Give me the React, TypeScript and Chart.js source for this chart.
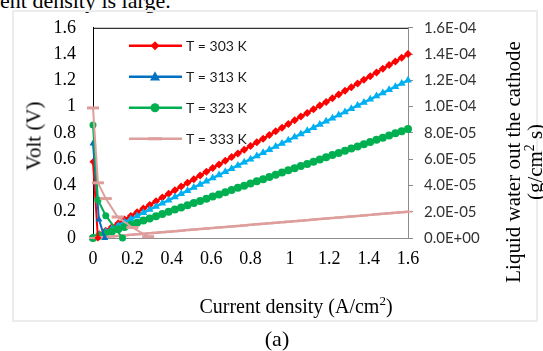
import React, { useEffect, useRef } from 'react';
import { Chart, registerables } from 'chart.js';

Chart.register(...registerables);

// ---------- data ----------
const seriesLabels = ['T = 303 K', 'T = 313 K', 'T = 323 K', 'T = 333 K'];

// polarization (Volt) curves, left axis
const voltX303 = [0, 0.025];
const volt303 = [0.58, 0.0];
const voltX313 = [0, 0.03, 0.06];
const volt313 = [0.72, 0.14, 0.0];
const voltX323 = [0, 0.025, 0.065, 0.15];
const volt323 = [0.86, 0.29, 0.17, 0.0];
const voltX333 = [0, 0.025, 0.065, 0.125, 0.2, 0.28];
const volt333 = [0.99, 0.42, 0.3, 0.16, 0.08, 0.01];

// liquid water out the cathode (units of 1E-05 g/cm2 s), right axis
const currentDensity = [
  0, 0.032, 0.064, 0.096, 0.128, 0.16, 0.192, 0.224, 0.256, 0.288, 0.32, 0.352, 0.384, 0.416, 0.448, 0.48,
  0.512, 0.544, 0.576, 0.608, 0.64, 0.672, 0.704, 0.736, 0.768, 0.8, 0.832, 0.864, 0.896, 0.928, 0.96,
  0.992, 1.024, 1.056, 1.088, 1.12, 1.152, 1.184, 1.216, 1.248, 1.28, 1.312, 1.344, 1.376, 1.408, 1.44,
  1.472, 1.504, 1.536, 1.568, 1.6,
];
const water303 = [
  0, 0.28, 0.56, 0.84, 1.12, 1.4, 1.68, 1.96, 2.24, 2.52, 2.8, 3.08, 3.36, 3.64, 3.92, 4.2, 4.48, 4.76,
  5.04, 5.32, 5.6, 5.88, 6.16, 6.44, 6.72, 7.0, 7.28, 7.56, 7.84, 8.12, 8.4, 8.68, 8.96, 9.24, 9.52, 9.8,
  10.08, 10.36, 10.64, 10.92, 11.2, 11.48, 11.76, 12.04, 12.32, 12.6, 12.88, 13.16, 13.44, 13.72, 14.0,
];
const water313 = [
  0, 0.24, 0.48, 0.72, 0.96, 1.2, 1.44, 1.68, 1.92, 2.16, 2.4, 2.64, 2.88, 3.12, 3.36, 3.6, 3.84, 4.08,
  4.32, 4.56, 4.8, 5.04, 5.28, 5.52, 5.76, 6.0, 6.24, 6.48, 6.72, 6.96, 7.2, 7.44, 7.68, 7.92, 8.16, 8.4,
  8.64, 8.88, 9.12, 9.36, 9.6, 9.84, 10.08, 10.32, 10.56, 10.8, 11.04, 11.28, 11.52, 11.76, 12.0,
];
const water323 = [
  0, 0.17, 0.33, 0.5, 0.66, 0.83, 1.0, 1.16, 1.33, 1.49, 1.66, 1.83, 1.99, 2.16, 2.32, 2.49, 2.66, 2.82,
  2.99, 3.15, 3.32, 3.49, 3.65, 3.82, 3.98, 4.15, 4.32, 4.48, 4.65, 4.81, 4.98, 5.15, 5.31, 5.48, 5.64,
  5.81, 5.98, 6.14, 6.31, 6.47, 6.64, 6.81, 6.97, 7.14, 7.3, 7.47, 7.64, 7.8, 7.97, 8.13, 8.3,
];
const water333 = [
  0, 0.04, 0.08, 0.12, 0.16, 0.2, 0.24, 0.28, 0.32, 0.36, 0.4, 0.44, 0.48, 0.52, 0.56, 0.6, 0.64, 0.68,
  0.72, 0.76, 0.8, 0.84, 0.88, 0.92, 0.96, 1.0, 1.04, 1.08, 1.12, 1.16, 1.2, 1.24, 1.28, 1.32, 1.36, 1.4,
  1.44, 1.48, 1.52, 1.56, 1.6, 1.64, 1.68, 1.72, 1.76, 1.8, 1.84, 1.88, 1.92, 1.96, 2.0,
];

const xTickLabels = ['0', '0.2', '0.4', '0.6', '0.8', '1', '1.2', '1.4', '1.6'];
const voltTickLabels = ['0', '0.2', '0.4', '0.6', '0.8', '1', '1.2', '1.4', '1.6'];
const waterTickLabels = ['0.0E+00', '2.0E-05', '4.0E-05', '6.0E-05', '8.0E-05', '1.0E-04', '1.2E-04', '1.4E-04', '1.6E-04'];

// ---------- styles ----------
const RED = '#FF0000';
const BLUE = '#0070C0';
const CYAN = '#00B0F0';
const GREEN = '#00B050';
const PINK = '#DE9E9C';
const SERIF = "'Liberation Serif', 'Times New Roman', serif";
const SANS = "Lato, 'Open Sans', sans-serif";

const pts = (xs: number[], ys: number[]) => xs.map((x, i) => ({ x, y: ys[i] }));

function drawMarker(ctx: CanvasRenderingContext2D, style: string, x: number, y: number, r: number, color: string) {
  ctx.save();
  ctx.fillStyle = color;
  ctx.strokeStyle = color;
  ctx.beginPath();
  if (style === 'rectRot') {
    ctx.moveTo(x, y - r);
    ctx.lineTo(x + r, y);
    ctx.lineTo(x, y + r);
    ctx.lineTo(x - r, y);
    ctx.closePath();
    ctx.fill();
  } else if (style === 'triangle') {
    ctx.moveTo(x, y - r * 1.1);
    ctx.lineTo(x + r, y + r * 0.75);
    ctx.lineTo(x - r, y + r * 0.75);
    ctx.closePath();
    ctx.fill();
  } else if (style === 'circle') {
    ctx.arc(x, y, r, 0, Math.PI * 2);
    ctx.fill();
  } else {
    ctx.lineWidth = 3;
    ctx.moveTo(x - r, y);
    ctx.lineTo(x + r, y);
    ctx.stroke();
  }
  ctx.restore();
}

const insideLegend = {
  id: 'insideLegend',
  afterDraw(chart: any) {
    const { ctx, chartArea } = chart;
    // top border of plot area
    ctx.save();
    ctx.strokeStyle = '#000';
    ctx.lineWidth = 1;
    ctx.beginPath();
    ctx.moveTo(chartArea.left, chartArea.top + 0.5);
    ctx.lineTo(chartArea.right, chartArea.top + 0.5);
    ctx.stroke();
    ctx.restore();

    const items = chart.data.datasets
      .filter((d: any) => d.inLegend)
      .sort((a: any, b: any) => seriesLabels.indexOf(a.label) - seriesLabels.indexOf(b.label));
    items.forEach((d: any, i: number) => {
      const x0 = chartArea.left + 36;
      const y = chartArea.top + 18 + i * 31;
      ctx.save();
      ctx.strokeStyle = d.borderColor;
      ctx.lineWidth = 2.5;
      ctx.beginPath();
      ctx.moveTo(x0, y);
      ctx.lineTo(x0 + 53, y);
      ctx.stroke();
      drawMarker(ctx, d.pointStyle, x0 + 26, y, d.legendRadius, d.borderColor);
      ctx.fillStyle = '#1a1a1a';
      ctx.font = `14px ${SANS}`;
      ctx.textBaseline = 'middle';
      ctx.textAlign = 'left';
      ctx.fillText(d.label, x0 + 57, y + 1);
      ctx.restore();
    });
  },
};

export default function App() {
  const canvasRef = useRef<HTMLCanvasElement | null>(null);

  useEffect(() => {
    if (!canvasRef.current) return;
    const voltDs = (label: string, xs: number[], ys: number[], color: string, style: string, r: number, lr: number) => ({
      label,
      data: pts(xs, ys),
      borderColor: color,
      backgroundColor: color,
      borderWidth: 2,
      pointStyle: style,
      pointRadius: r,
      pointBorderWidth: style === 'line' ? 3 : 0,
      pointBorderColor: color,
      yAxisID: 'y',
      clip: false,
      inLegend: true,
      legendRadius: lr,
    });
    const waterDs = (label: string, ys: number[], color: string, style: string, r: number) => ({
      label: label + ' water',
      data: pts(currentDensity, ys),
      borderColor: color,
      backgroundColor: color,
      borderWidth: 2.5,
      pointStyle: style,
      pointRadius: r,
      pointBorderWidth: style === 'line' ? 2 : 0,
      pointBorderColor: color,
      yAxisID: 'y2',
      clip: false,
      inLegend: false,
    });

    const chart = new Chart(canvasRef.current, {
      type: 'line',
      data: {
        datasets: [
          voltDs(seriesLabels[3], voltX333, volt333, PINK, 'line', 6, 7),
          voltDs(seriesLabels[2], voltX323, volt323, GREEN, 'circle', 3.5, 4.5),
          voltDs(seriesLabels[1], voltX313, volt313, BLUE, 'triangle', 4, 5),
          voltDs(seriesLabels[0], voltX303, volt303, RED, 'rectRot', 3.5, 4.5),
          waterDs(seriesLabels[3], water333, PINK, 'line', 4),
          waterDs(seriesLabels[2], water323, GREEN, 'circle', 4),
          waterDs(seriesLabels[1], water313, CYAN, 'triangle', 4.5),
          waterDs(seriesLabels[0], water303, RED, 'rectRot', 4),
        ] as any,
      },
      options: {
        animation: false,
        responsive: false,
        devicePixelRatio: 1,
        layout: { padding: { top: 24, left: 0, right: 0, bottom: 0 } },
        plugins: { legend: { display: false }, tooltip: { enabled: false } },
        scales: {
          x: {
            type: 'linear',
            min: 0,
            max: 1.6,
            ticks: {
              stepSize: 0.2,
              autoSkip: false,
              maxRotation: 0,
              padding: 10,
              color: '#000',
              font: { family: SERIF, size: 18 },
              callback: (v: any) => xTickLabels[Math.round(Number(v) / 0.2)],
            },
            grid: { display: false, drawTicks: false },
            border: { display: true, color: '#8c8c8c', width: 1 },
            afterFit: (s: any) => {
              s.height = 113;
            },
          },
          y: {
            type: 'linear',
            position: 'left',
            min: 0,
            max: 1.6,
            ticks: {
              stepSize: 0.2,
              padding: 17,
              color: '#000',
              font: { family: SERIF, size: 18 },
              callback: (v: any) => voltTickLabels[Math.round(Number(v) / 0.2)],
            },
            grid: { display: false, drawTicks: false },
            border: { display: true, color: '#000', width: 1 },
            afterFit: (s: any) => {
              s.width = 93;
            },
          },
          y2: {
            type: 'linear',
            position: 'right',
            min: 0,
            max: 16,
            ticks: {
              stepSize: 2,
              padding: 11,
              color: '#333',
              font: { family: SANS, size: 15 },
              callback: (v: any) => waterTickLabels[Math.round(Number(v) / 2)],
            },
            grid: { display: true, drawOnChartArea: false, drawTicks: true, tickLength: 5, color: '#8c8c8c' },
            border: { display: true, color: '#8c8c8c', width: 1 },
            afterFit: (s: any) => {
              s.width = 135;
            },
          },
        },
      } as any,
      plugins: [insideLegend],
    });
    return () => chart.destroy();
  }, []);

  const abs = (extra: React.CSSProperties): React.CSSProperties => ({ position: 'absolute', whiteSpace: 'nowrap', ...extra });

  return (
    <div style={{ position: 'fixed', left: 0, top: 0, width: 543, height: 351, background: '#fff', overflow: 'hidden' }}>
      <div style={abs({ left: 0, top: -10, fontFamily: SERIF, fontSize: 22, lineHeight: '22px', color: '#000' })}>
        ent density is large.
      </div>
      <div style={abs({ left: 12, top: 10, width: 526, height: 312, border: '2px solid #ececec', boxSizing: 'border-box' })} />
      <canvas ref={canvasRef} width={543} height={351} style={{ position: 'absolute', left: 0, top: 0, width: 543, height: 351 }} />
      <div
        style={abs({ left: 34, top: 136, transform: 'translate(-50%, -50%) rotate(-90deg)', fontFamily: SERIF, fontSize: 21, lineHeight: '21px', color: '#000' })}
      >
        Volt (V)
      </div>
      <div
        style={abs({ left: 296, top: 306, transform: 'translate(-50%, -50%)', fontFamily: SERIF, fontSize: 20, lineHeight: '20px', color: '#000' })}
      >
        Current density (A/cm<sup style={{ fontSize: '0.65em', lineHeight: 0 }}>2</sup>)
      </div>
      <div
        style={abs({ left: 513, top: 162, transform: 'translate(-50%, -50%) rotate(-90deg)', fontFamily: SERIF, fontSize: 21, lineHeight: '21px', color: '#000' })}
      >
        Liquid water out the cathode
      </div>
      <div
        style={abs({ left: 535, top: 162, transform: 'translate(-50%, -50%) rotate(-90deg)', fontFamily: SERIF, fontSize: 21, lineHeight: '21px', color: '#000' })}
      >
        (g/cm<sup style={{ fontSize: '0.65em', lineHeight: 0 }}>2</sup> s)
      </div>
      <div style={abs({ left: 277, top: 339, transform: 'translate(-50%, -50%)', fontFamily: SERIF, fontSize: 22, lineHeight: '22px', color: '#000' })}>
        (a)
      </div>
    </div>
  );
}
